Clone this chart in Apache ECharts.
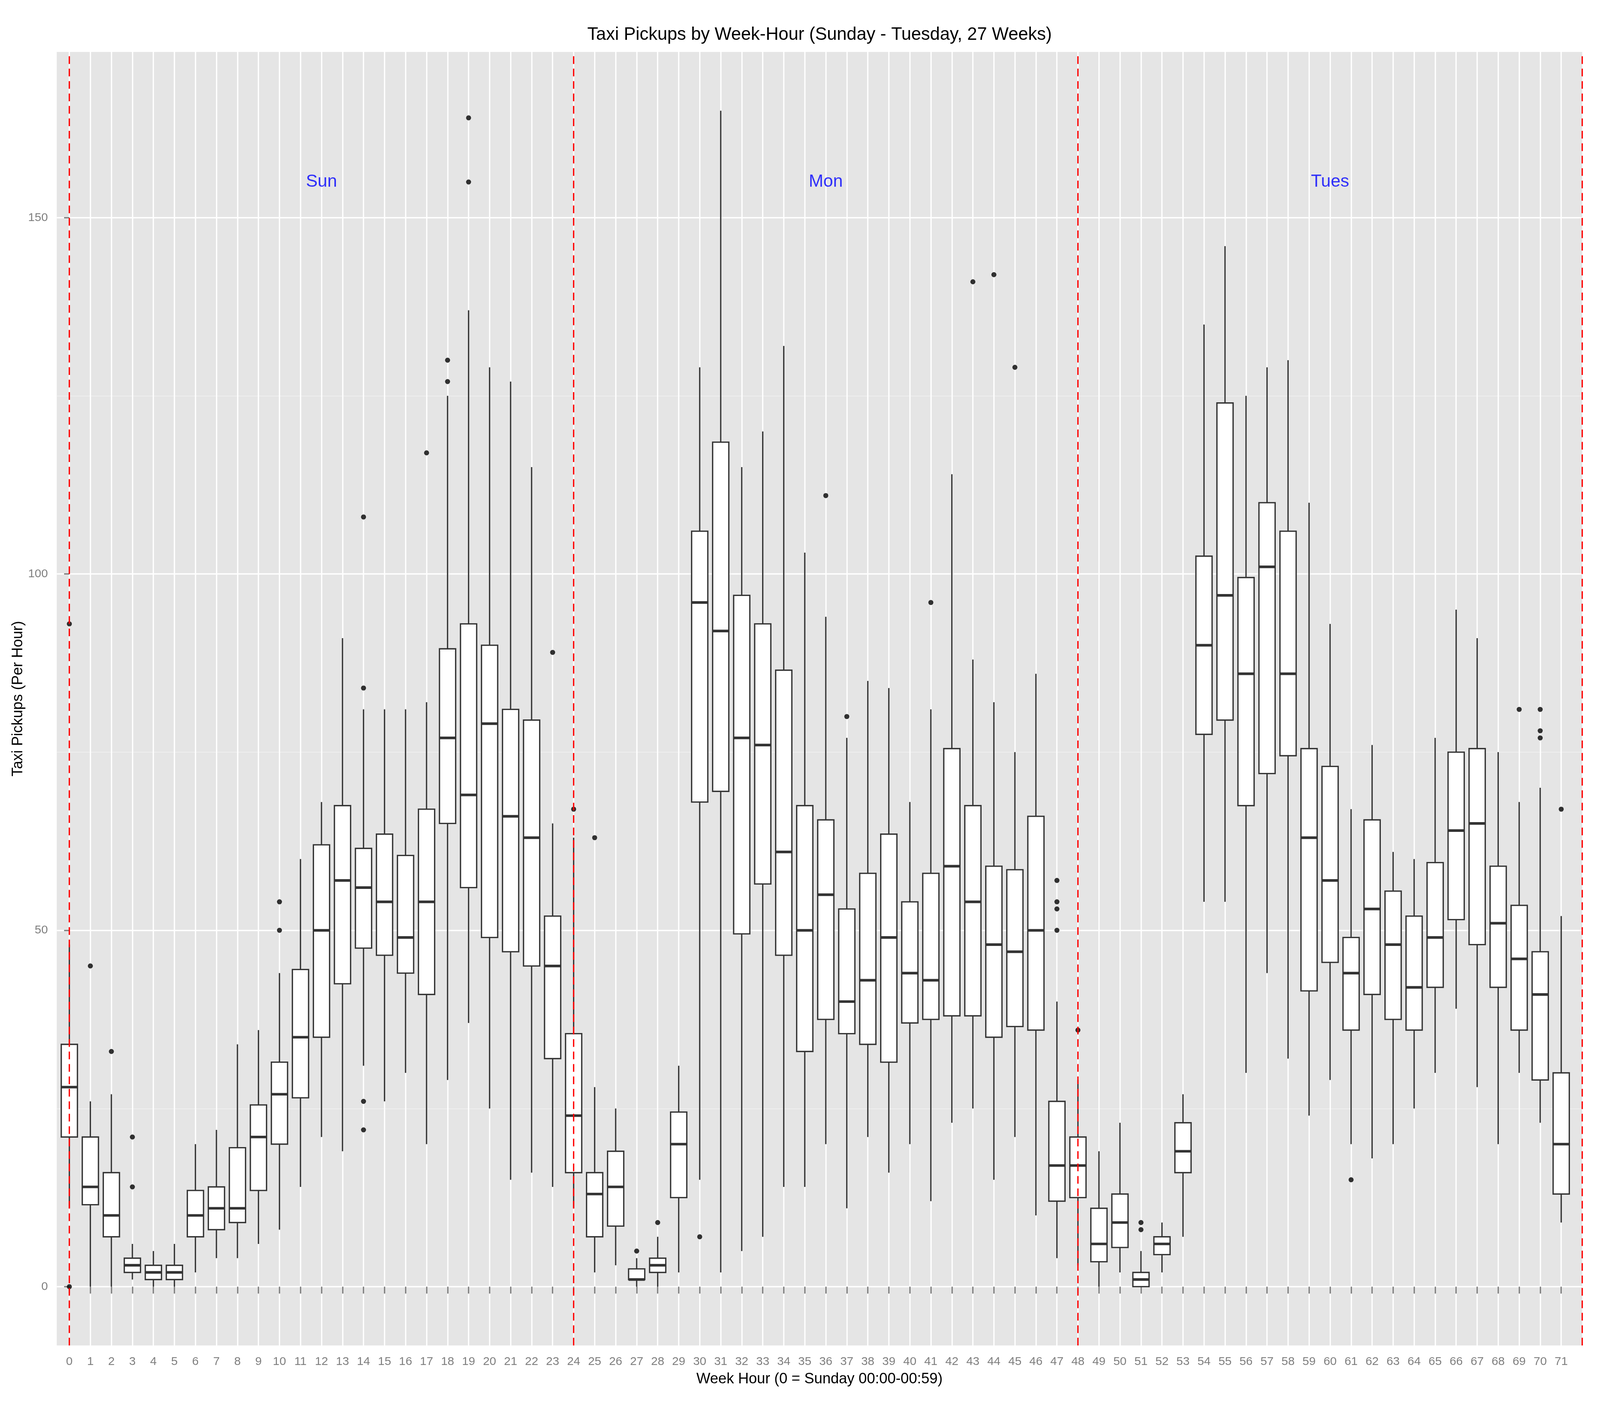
<!DOCTYPE html>
<html>
<head>
<meta charset="utf-8">
<title>Taxi Pickups by Week-Hour</title>
<script src="https://cdn.jsdelivr.net/npm/echarts@6.0.0/dist/echarts.min.js"></script>
<style>
  html, body { margin: 0; padding: 0; background: #fff; overflow: hidden; }
  #chart { width: 100vw; height: 100vh; }
</style>
</head>
<body>
<div id="chart"></div>
<script>
// week hours 0..71 (Sunday 00:00 = 0)
var hours = [];
for (var h = 0; h < 72; h++) { hours.push(h); }

// box stats per hour
var whiskerLow = [11, 0, 0, 1, 0, 0, 2, 4, 4, 6, 8, 14,
    21, 19, 31, 26, 30, 20, 29, 37, 25, 15, 16, 14,
    11, 2, 3, 0, 0, 2, 15, 2, 5, 7, 14, 14,
    20, 11, 21, 16, 20, 12, 23, 25, 15, 21, 10, 4,
    3, 0, 2, 0, 2, 7, 54, 54, 30, 44, 32, 24,
    29, 20, 18, 20, 25, 30, 39, 28, 20, 30, 23, 9];
var q1 = [21, 11.5, 7, 2, 1, 1, 7, 8, 9, 13.5, 20, 26.5,
    35, 42.5, 47.5, 46.5, 44, 41, 65, 56, 49, 47, 45, 32,
    16, 7, 8.5, 1, 2, 12.5, 68, 69.5, 49.5, 56.5, 46.5, 33,
    37.5, 35.5, 34, 31.5, 37, 37.5, 38, 38, 35, 36.5, 36, 12,
    12.5, 3.5, 5.5, 0, 4.5, 16, 77.5, 79.5, 67.5, 72, 74.5, 41.5,
    45.5, 36, 41, 37.5, 36, 42, 51.5, 48, 42, 36, 29, 13];
var median = [28, 14, 10, 3, 2, 2, 10, 11, 11, 21, 27, 35,
    50, 57, 56, 54, 49, 54, 77, 69, 79, 66, 63, 45,
    24, 13, 14, 1, 3, 20, 96, 92, 77, 76, 61, 50,
    55, 40, 43, 49, 44, 43, 59, 54, 48, 47, 50, 17,
    17, 6, 9, 1, 6, 19, 90, 97, 86, 101, 86, 63,
    57, 44, 53, 48, 42, 49, 64, 65, 51, 46, 41, 20];
var q3 = [34, 21, 16, 4, 3, 3, 13.5, 14, 19.5, 25.5, 31.5, 44.5,
    62, 67.5, 61.5, 63.5, 60.5, 67, 89.5, 93, 90, 81, 79.5, 52,
    35.5, 16, 19, 2.5, 4, 24.5, 106, 118.5, 97, 93, 86.5, 67.5,
    65.5, 53, 58, 63.5, 54, 58, 75.5, 67.5, 59, 58.5, 66, 26,
    21, 11, 13, 2, 7, 23, 102.5, 124, 99.5, 110, 106, 75.5,
    73, 49, 65.5, 55.5, 52, 59.5, 75, 75.5, 59, 53.5, 47, 30];
var whiskerHigh = [48, 26, 27, 6, 5, 6, 20, 22, 34, 36, 44, 60,
    68, 91, 81, 81, 81, 82, 125, 137, 129, 127, 115, 65,
    63, 28, 25, 4, 7, 31, 129, 165, 115, 120, 132, 103,
    94, 77, 85, 84, 68, 81, 114, 88, 82, 75, 86, 40,
    29, 19, 23, 5, 9, 27, 135, 146, 125, 129, 130, 110,
    93, 67, 76, 61, 60, 77, 95, 91, 75, 68, 70, 52];

// outliers as [hour, pickups]
var outlierHour = [0, 0, 1, 2, 3, 3, 10, 10, 14, 14, 14, 14, 17, 18, 18, 19, 19, 23,
    24, 25, 27, 28, 30, 36, 37, 41, 43, 44, 45, 47, 47, 47, 47,
    48, 51, 51, 61, 69, 70, 70, 70, 71];
var outlierValue = [93, 0, 45, 33, 21, 14, 54, 50, 108, 84, 26, 22, 117, 130, 127, 164, 155, 89,
    67, 63, 5, 9, 7, 111, 80, 96, 141, 142, 129, 57, 54, 53, 50,
    36, 9, 8, 15, 81, 81, 78, 77, 67];

// day separators and day names
var dayBreaks = [0, 24, 48, 72];
var dayNames = ['Sun', 'Mon', 'Tues'];
var dayNameHour = [12, 36, 60];
var dayNameY = 155;

var yMajor = [0, 50, 100, 150];
var yMinor = [25, 75, 125];

// layout is designed for 5400x3600 and scaled to the real window
var el = document.getElementById('chart');
var W = el.clientWidth || 5400;
var H = el.clientHeight || 3600;
var sx = W / 5400, sy = H / 3600, sf = Math.min(sx, sy);

var FONT = "'Liberation Sans', Arial, Helvetica, sans-serif";
var BOX_W = 0.77;
var LW = 4.4 * sf;

var boxData = [];
for (var i = 0; i < hours.length; i++) {
    boxData.push([hours[i], whiskerLow[i], q1[i], median[i], q3[i], whiskerHigh[i]]);
}
var outlierData = [];
for (var j = 0; j < outlierHour.length; j++) {
    outlierData.push([outlierHour[j], outlierValue[j]]);
}
var dayData = [];
for (var k = 0; k < dayNames.length; k++) {
    dayData.push({ name: dayNames[k], value: [dayNameHour[k], dayNameY] });
}

var renderBox = function(params, api) {
    var x = api.value(0);
    var lo = api.coord([x, api.value(1)]);
    var b1 = api.coord([x, api.value(2)]);
    var md = api.coord([x, api.value(3)]);
    var b3 = api.coord([x, api.value(4)]);
    var hi = api.coord([x, api.value(5)]);
    var half = api.size([BOX_W, 0])[0] / 2;
    var line = { stroke: '#333333', lineWidth: LW };
    return {
        type: 'group',
        children: [
            { type: 'line', shape: { x1: lo[0], y1: lo[1], x2: b1[0], y2: b1[1] }, style: line },
            { type: 'line', shape: { x1: b3[0], y1: b3[1], x2: hi[0], y2: hi[1] }, style: line },
            { type: 'rect', shape: { x: b1[0] - half, y: b3[1], width: half * 2, height: b1[1] - b3[1] },
              style: { fill: '#ffffff', stroke: '#333333', lineWidth: LW } },
            { type: 'line', shape: { x1: md[0] - half, y1: md[1], x2: md[0] + half, y2: md[1] },
              style: { stroke: '#333333', lineWidth: LW * 2 } }
        ]
    };
};

var myChart = echarts.init(el, null, { width: W, height: H });
var option = {
    animation: false,
    backgroundColor: '#ffffff',
    textStyle: { fontFamily: FONT },
    title: {
        text: 'Taxi Pickups by Week-Hour (Sunday - Tuesday, 27 Weeks)',
        left: 2766 * sx,
        top: 66 * sy,
        padding: 0,
        textAlign: 'center',
        textStyle: { fontFamily: FONT, fontSize: 60 * sf, fontWeight: 'normal', color: '#000000' }
    },
    grid: {
        left: 191.5 * sx,
        right: 60 * sx,
        top: 133 * sy,
        bottom: 155 * sy,
        show: true,
        backgroundColor: '#E5E5E5',
        borderWidth: 0,
        containLabel: false,
        outerBoundsMode: 'none'
    },
    xAxis: {
        type: 'value',
        min: -0.6,
        max: 72,
        axisLine: { show: false },
        axisTick: { show: true, customValues: hours, length: 17.7 * sy, lineStyle: { color: '#7F7F7F', width: LW } },
        axisLabel: { customValues: hours, fontSize: 40 * sf, color: '#7F7F7F', margin: 27 * sy, fontFamily: FONT },
        splitLine: { show: true, lineStyle: { color: '#ffffff', width: LW } },
        name: 'Week Hour (0 = Sunday 00:00-00:59)',
        nameLocation: 'middle',
        nameGap: 68 * sy,
        nameMoveOverlap: false,
        nameTextStyle: { fontSize: 50 * sf, color: '#000000', fontFamily: FONT }
    },
    yAxis: [{
        type: 'value',
        min: -8.25,
        max: 173.25,
        axisLine: { show: false },
        axisTick: { show: true, customValues: yMajor, length: 17.7 * sx, lineStyle: { color: '#7F7F7F', width: LW } },
        axisLabel: { customValues: yMajor, fontSize: 40 * sf, color: '#7F7F7F', margin: 30 * sx, fontFamily: FONT },
        splitLine: { show: true, lineStyle: { color: '#ffffff', width: LW } },
        name: 'Taxi Pickups (Per Hour)',
        nameLocation: 'middle',
        nameGap: 105 * sx,
        nameMoveOverlap: false,
        nameTextStyle: { fontSize: 50 * sf, color: '#000000', fontFamily: FONT }
    }, {
        // minor horizontal grid lines only
        type: 'value',
        min: -8.25,
        max: 173.25,
        position: 'left',
        axisLine: { show: false },
        axisTick: { show: false, customValues: yMinor },
        axisLabel: { show: false, customValues: yMinor },
        splitLine: { show: true, lineStyle: { color: '#F2F2F2', width: LW / 2 } }
    }],
    series: [{
        name: 'box',
        type: 'custom',
        renderItem: renderBox,
        encode: { x: 0, y: [1, 2, 3, 4, 5] },
        data: boxData,
        z: 2
    }, {
        name: 'outliers',
        type: 'scatter',
        symbol: 'circle',
        symbolSize: 17 * sf,
        itemStyle: { color: '#000000' },
        data: outlierData,
        z: 3
    }, {
        name: 'days',
        type: 'scatter',
        symbolSize: 0,
        data: dayData,
        label: {
            show: true,
            position: 'inside',
            formatter: '{b}',
            color: '#0000FF',
            fontSize: 59 * sf,
            fontFamily: FONT
        },
        markLine: {
            silent: true,
            symbol: ['none', 'none'],
            label: { show: false },
            lineStyle: { color: '#FF0000', width: LW, type: [26 * sf, 16 * sf], opacity: 1 },
            emphasis: { disabled: true },
            data: dayBreaks.map(function(v) { return { xAxis: v }; })
        },
        z: 4
    }]
};
myChart.setOption(option);
</script>
</body>
</html>
